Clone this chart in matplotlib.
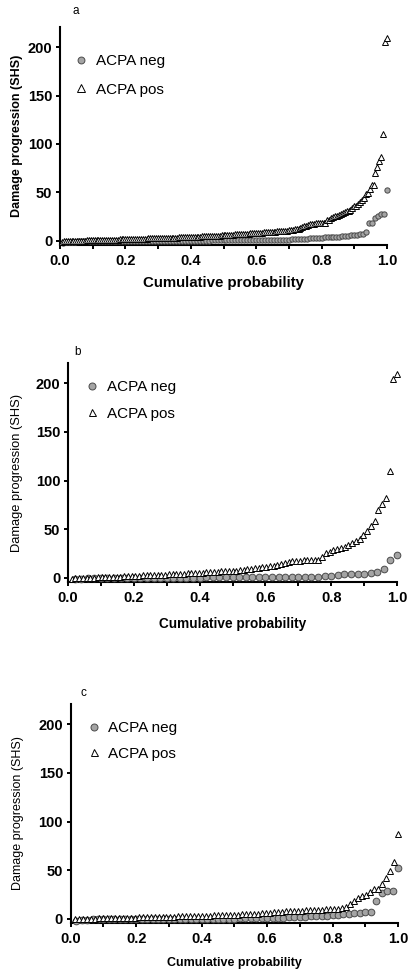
"""Cumulative probability plots of damage progression (SHS) by ACPA status."""

import matplotlib

matplotlib.use("Agg")
import matplotlib.pyplot as plt
from matplotlib.ticker import MultipleLocator

plt.rcParams["font.family"] = ["Liberation Sans", "DejaVu Sans"]

# sorted SHS progression values, panel b
NEG_B = [
    -1, -1, 0, 0, 0, 0, 0, 0, 0, 0,
    0, 0, 0, 0, 0, 0, 0, 0, 0, 0,
    0.5, 0.5, 0.5, 0.5, 0.5, 0.5, 0.5, 0.5, 0.5, 1,
    1, 1, 1, 1, 1, 1, 1, 1, 1.5, 2,
    3, 3.5, 4, 4, 4, 5, 6, 9, 18, 23,
]
POS_B = [
    -1, 0, 0, 0, 0, 0, 0, 1, 1, 1, 1,
    1, 1, 1, 2, 2, 2, 2, 2, 3, 3, 3,
    3, 3, 3, 3, 4, 4, 4, 4, 4, 5, 5,
    5, 5, 5, 6, 6, 6, 6, 7, 7,
    7, 7, 7, 8, 8, 9, 9, 10, 10,
    11, 11, 12, 12, 13, 14, 15, 16,
    17, 17, 17, 18, 18, 18, 18, 18,
    21, 25, 26, 28, 29, 31, 32, 34, 36, 38, 40, 44, 48, 53, 58, 70, 76, 82,
    110, 205, 210,
]

# panel c
NEG_C = [
    -2, -1, -1, 0, 0, 0, 0, 0, 0, 0, 0, 0, 0, 0, 0, 0, 0, 0, 0, 0,
    0, 0, 0, 0, 0, 0, 0, 0, 0, 0,
    0.5, 0.5, 0.5, 0.5, 0.5,
    1, 1, 1, 1, 1.5, 1.5, 2, 2, 2.5, 2.5,
    3, 3, 3.5, 4, 4.5, 5, 5.5, 6, 6.5, 7,
    18, 26, 28, 28, 52,
]
POS_C = [
    0, 0, 0, 0, 0, 0, 1, 1, 1,
    1, 1, 1, 1, 1, 1, 1, 2, 2, 2,
    2, 2, 2, 2, 2, 2, 2, 3, 3, 3,
    3, 3, 3, 3, 3, 3, 4, 4, 4, 4,
    4, 4, 4, 5, 5, 5, 5, 5, 6, 6,
    6, 7, 7, 7, 8, 8, 8, 8, 8, 9,
    9, 9, 9, 9, 10, 10, 10, 10, 11,
    12, 15, 18, 21, 23, 24, 27, 30, 31, 36, 42, 49, 58, 87,
]

# panel a is the whole cohort (b and c together)
NEG_A = sorted(NEG_B + NEG_C)
POS_A = sorted(POS_B + POS_C)

PANELS = ["a", "b", "c"]
LABELS = ["ACPA neg", "ACPA pos"]
X_TICKS = [0.0, 0.2, 0.4, 0.6, 0.8, 1.0]
Y_TICKS = [0, 50, 100, 150, 200]


def cum_prob(vals):
    n = len(vals)
    return [(i + 1) / n for i in range(n)], sorted(vals)


# per panel layout (pixels measured on the 408x973 target)
layout = {
    "a": dict(rect=(60, 27, 387, 245), neg=NEG_A, pos=POS_A, ms_neg=3.8, ms_pos=4.6,
              ylab_bold=True, ylab_fs=9.0, ylab_x=17, xlab_fs=10.8, xlab_y=283,
              letter=(76, 11), leg=(21, 33, 61), mscale=1.3),
    "b": dict(rect=(68, 363, 397, 582), neg=NEG_B, pos=POS_B, ms_neg=4.8, ms_pos=4.8,
              ylab_bold=False, ylab_fs=9.3, ylab_x=17, xlab_fs=9.8, xlab_y=624,
              letter=(78, 352), leg=(24, 23, 49), mscale=1.05),
    "c": dict(rect=(70.7, 704, 398, 923), neg=NEG_C, pos=POS_C, ms_neg=4.8, ms_pos=4.8,
              ylab_bold=False, ylab_fs=9.0, ylab_x=18, xlab_fs=9.0, xlab_y=963,
              letter=(83, 693), leg=(23, 23, 48), mscale=1.05),
}

W, H = 408, 973
fig = plt.figure(figsize=(W / 100, H / 100), dpi=100)

for key in PANELS:
    p = layout[key]
    x0, ytop, x1, ybot = p["rect"]
    ax = fig.add_axes([x0 / W, 1 - ybot / H, (x1 - x0) / W, (ybot - ytop) / H])

    xn, yn = cum_prob(p["neg"])
    xp, yp = cum_prob(p["pos"])
    ax.plot(xn, yn, "o", ms=p["ms_neg"], mfc="#a4a4a4", mec="#4a4a4a", mew=0.7,
            clip_on=False, label=LABELS[0], zorder=3)
    ax.plot(xp, yp, "^", ms=p["ms_pos"], mfc="white", mec="black", mew=0.7,
            clip_on=False, label=LABELS[1], zorder=4)

    ax.set_xlim(0, 1.0)
    ax.set_ylim(-4.5, 221)
    ax.set_xticks(X_TICKS)
    ax.set_xticklabels([f"{t:.1f}" for t in X_TICKS])
    ax.xaxis.set_minor_locator(MultipleLocator(0.1))
    ax.set_yticks(Y_TICKS)

    for s in ["top", "right"]:
        ax.spines[s].set_visible(False)
    for s in ["left", "bottom"]:
        ax.spines[s].set_linewidth(1.5)
    ax.tick_params(which="both", direction="out", length=3, width=1.4)
    ax.tick_params(axis="x", pad=3.5)
    ax.tick_params(axis="y", pad=2.5)
    for lab in ax.get_xticklabels() + ax.get_yticklabels():
        lab.set_fontweight("bold")
        lab.set_fontsize(10.5)

    ax.set_xlabel("Cumulative probability", fontsize=p["xlab_fs"], fontweight="bold", va="center")
    ax.xaxis.set_label_coords(0.5, (ybot - p["xlab_y"]) / (ybot - ytop))
    ax.set_ylabel("Damage progression (SHS)", fontsize=p["ylab_fs"],
                  fontweight="bold" if p["ylab_bold"] else "normal", va="center")
    ax.yaxis.set_label_coords((p["ylab_x"] - x0) / (x1 - x0), 0.5)

    fig.text(p["letter"][0] / W, 1 - p["letter"][1] / H, key, fontsize=8.5,
             ha="center", va="center")

    dx, r1, r2 = p["leg"]
    fs = 11
    fs_px = fs * 100 / 72
    ax.legend(loc="upper left", frameon=False, fontsize=fs, borderpad=0,
              borderaxespad=0, handlelength=1.0, handletextpad=0.45,
              labelspacing=(r2 - r1) / fs_px - 0.88, markerscale=p["mscale"],
              bbox_to_anchor=((dx - 0.5 * fs_px) / (x1 - x0),
                              1 - (r1 - 0.5 * fs_px * 0.75) / (ybot - ytop)))

fig.savefig("out.png", dpi=100)
